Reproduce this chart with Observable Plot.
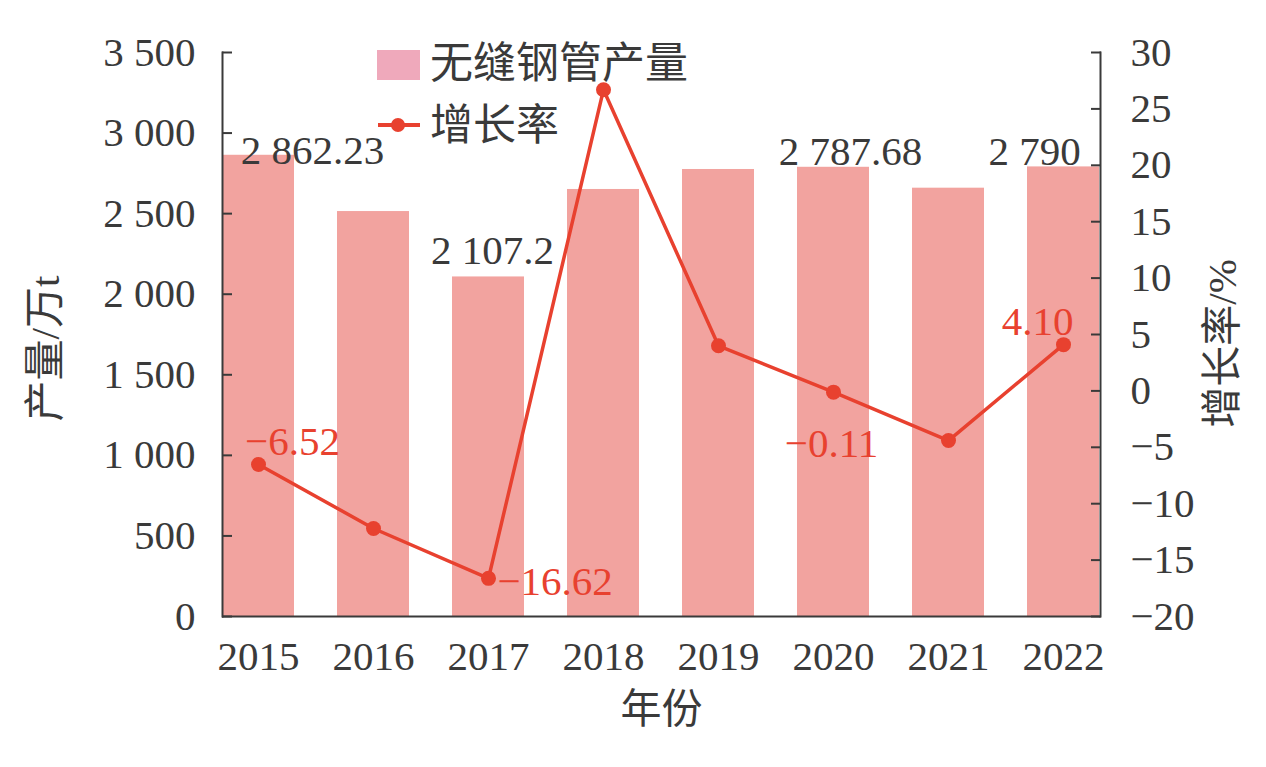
<!DOCTYPE html>
<html>
<head>
<meta charset="utf-8">
<script src="https://cdn.jsdelivr.net/npm/d3@7"></script>
<script src="https://cdn.jsdelivr.net/npm/@observablehq/plot@0.6"></script>
<style>
  html, body { margin: 0; padding: 0; background: #ffffff; }
  #wrap { position: relative; width: 1266px; height: 767px; font-family: 'Liberation Serif', 'Noto Sans CJK SC', serif; }
  .lg { position: absolute; font-size: 43px; color: #3a3a3a; line-height: 1; white-space: nowrap; }
</style>
</head>
<body>
<div id="wrap"></div>
<script>
const years = ["2015", "2016", "2017", "2018", "2019", "2020", "2021", "2022"];
const output = [2862.23, 2513, 2107.2, 2650, 2774, 2787.68, 2658, 2790];
const growth = [-6.52, -12.2, -16.62, 26.7, 4.0, -0.11, -4.4, 4.10];
const leftTicks = [0, 500, 1000, 1500, 2000, 2500, 3000, 3500];
const rightTicks = [-20, -15, -10, -5, 0, 5, 10, 15, 20, 25, 30];
const outputLabelYears = ["2015", "2017", "2020", "2022"];
const growthLabelYears = ["2015", "2017", "2020", "2022"];
const seriesNames = ["无缝钢管产量", "增长率"];
const axisTitles = { left: "产量/万t", right: "增长率/%", bottom: "年份" };

const gMin = -20, gMax = 30, yMax = 3500;
const toLeft = g => (g - gMin) / (gMax - gMin) * yMax;
const fromLeft = v => v / yMax * (gMax - gMin) + gMin;

const loc = d3.formatLocale({ decimal: ".", thousands: " ", grouping: [3], currency: ["", ""], minus: "\u2212" });
const fmtInt = loc.format(",");
const fmt2 = loc.format(".2f");
const fmtR = g => { const r = Math.round(g); return r < 0 ? "\u2212" + Math.abs(r) : String(r); };

const data = years.map((y, i) => ({ year: y, output: output[i], growth: growth[i], gy: toLeft(growth[i]) }));

const barColor = "#f2a39f";
const lineColor = "#e8412f";
const ink = "#3a3a3a";

const outLabel = (yr, dx, dy) => Plot.text(data.filter(d => d.year === yr && outputLabelYears.includes(yr)), {
  x: "year", y: "output", text: d => fmtInt(d.output), dx, dy, fill: ink
});
const grLabel = (yr, dx, dy, anchor = "middle") => Plot.text(data.filter(d => d.year === yr && growthLabelYears.includes(yr)), {
  x: "year", y: "gy", text: d => fmt2(d.growth), dx, dy, fill: lineColor, textAnchor: anchor
});

const chart = Plot.plot({
  width: 1266,
  height: 767,
  marginLeft: 222,
  marginRight: 166,
  marginTop: 52,
  marginBottom: 151,
  style: { fontFamily: "'Liberation Serif', 'Noto Sans CJK SC', serif", fontSize: "41px", color: ink, background: "#ffffff" },
  x: { domain: years, type: "band", paddingInner: 0.37, paddingOuter: 0, align: 0.5 },
  y: { domain: [0, yMax] },
  marks: [
    Plot.barY(data, { x: "year", y: "output", fill: barColor }),
    Plot.line(data, { x: "year", y: "gy", stroke: lineColor, strokeWidth: 3.5 }),
    Plot.dot(data, { x: "year", y: "gy", fill: lineColor, r: 7.5 }),
    outLabel("2015", 54, -4),
    outLabel("2017", 4, -26),
    outLabel("2020", 17, -15),
    outLabel("2022", -29, -15),
    grLabel("2015", 34, -23),
    grLabel("2017", 9, 4, "start"),
    grLabel("2020", -2, 52),
    grLabel("2022", -26, -23),
    Plot.axisY(leftTicks, { anchor: "left", tickSize: -10, tickPadding: 37, tickFormat: d => fmtInt(d), stroke: ink, strokeWidth: 2, fill: ink, label: null }),
    Plot.axisY(rightTicks.map(toLeft), { anchor: "right", tickSize: -10, tickPadding: 40, tickFormat: v => fmtR(fromLeft(v)), stroke: ink, strokeWidth: 2, fill: ink, label: null }),
    Plot.axisX({ tickSize: 0, tickPadding: 24, fill: ink, label: null }),
    Plot.frame({ anchor: "left", stroke: ink, strokeWidth: 2 }),
    Plot.frame({ anchor: "right", stroke: ink, strokeWidth: 2 }),
    Plot.ruleY([0], { stroke: ink, strokeWidth: 2 }),
    Plot.text([axisTitles.left], { frameAnchor: "left", textAnchor: "middle", dx: -177, dy: 14, rotate: -90, text: d => d, fill: ink }),
    Plot.text([axisTitles.right], { frameAnchor: "right", textAnchor: "middle", dx: 122, dy: 9, rotate: -90, text: d => d, fill: ink }),
    Plot.text([axisTitles.bottom], { frameAnchor: "bottom", dy: 106, text: d => d, fill: ink })
  ]
});

const wrap = document.getElementById("wrap");
wrap.appendChild(chart);

const l1sw = document.createElement("div");
l1sw.style.cssText = "position:absolute;left:377px;top:50px;width:43px;height:30px;background:#efa9bb;";
wrap.appendChild(l1sw);
const l1 = document.createElement("div");
l1.className = "lg"; l1.style.left = "430px"; l1.style.top = "42px"; l1.textContent = seriesNames[0];
wrap.appendChild(l1);

const l2sw = document.createElementNS("http://www.w3.org/2000/svg", "svg");
l2sw.setAttribute("width", "46"); l2sw.setAttribute("height", "20");
l2sw.style.cssText = "position:absolute;left:376px;top:115px;";
l2sw.innerHTML = `<line x1="2" y1="10" x2="44" y2="10" stroke="${lineColor}" stroke-width="4"/><circle cx="22" cy="10" r="7" fill="${lineColor}"/>`;
wrap.appendChild(l2sw);
const l2 = document.createElement("div");
l2.className = "lg"; l2.style.left = "430px"; l2.style.top = "104px"; l2.textContent = seriesNames[1];
wrap.appendChild(l2);
</script>
</body>
</html>
